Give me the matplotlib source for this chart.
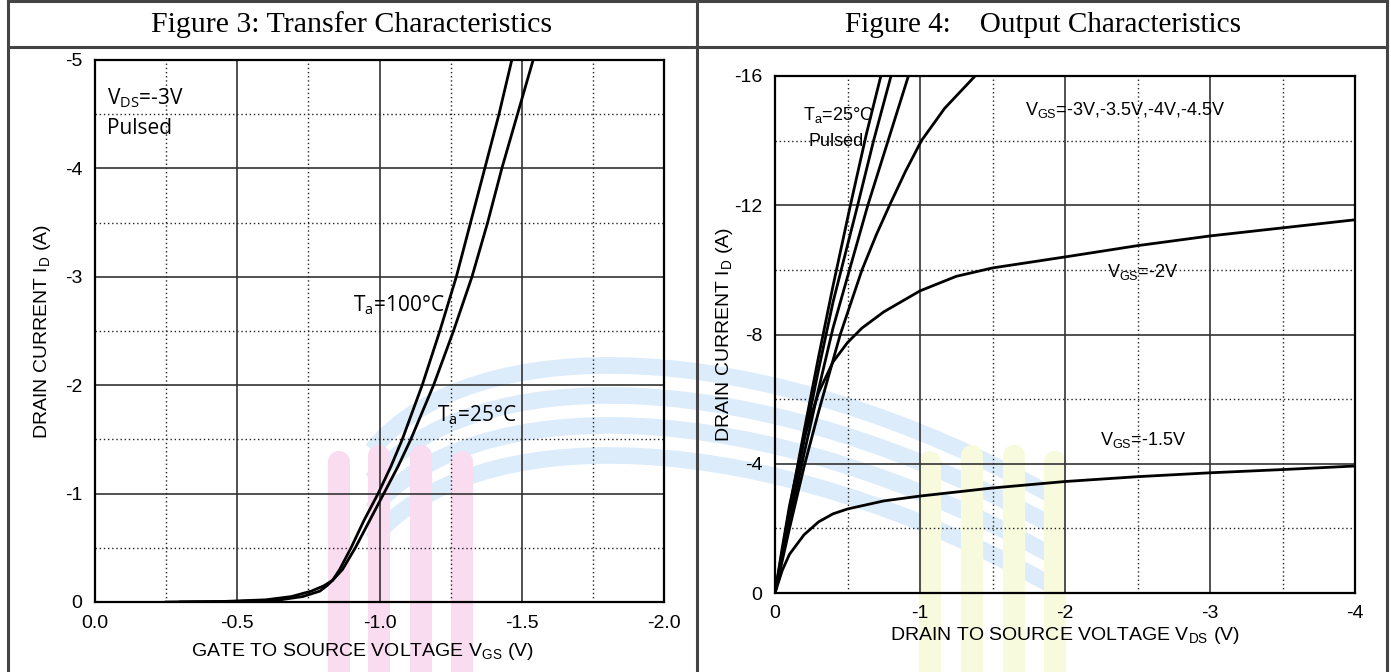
import matplotlib
matplotlib.use("Agg")
import matplotlib.pyplot as plt
from matplotlib.lines import Line2D
from matplotlib.patches import PathPatch
from matplotlib.path import Path
from matplotlib.ticker import FixedLocator

plt.rcParams['font.family'] = ['Liberation Sans', 'DejaVu Sans']

# ---- Figure 3: transfer characteristics (I_D vs V_GS) ----
TRANSFER_ID = [0, -0.005, -0.02, -0.05, -0.1, -0.15, -0.2, -0.3, -0.5, -0.75, -1.0, -1.25, -1.5,
               -2.0, -2.5, -3.0, -3.5, -4.0, -4.5, -5.0]
VGS_100C = [-0.30, -0.50, -0.65, -0.73, -0.79, -0.815, -0.835, -0.86, -0.900, -0.945, -0.995,
            -1.040, -1.080, -1.150, -1.212, -1.270, -1.320, -1.370, -1.420, -1.465]
VGS_25C = [-0.25, -0.45, -0.60, -0.69, -0.76, -0.805, -0.835, -0.87, -0.915, -0.965, -1.015,
           -1.065, -1.110, -1.190, -1.260, -1.325, -1.380, -1.430, -1.485, -1.540]

# ---- Figure 4: output characteristics (I_D vs V_DS) ----
VDS_45V = [0, -0.1, -0.2, -0.3, -0.4, -0.52, -0.63, -0.73]
ID_45V = [0, -2.6, -5.0, -7.3, -9.5, -12.0, -14.2, -16.0]
VDS_40V = [0, -0.1, -0.2, -0.3, -0.4, -0.57, -0.68, -0.80]
ID_40V = [0, -2.4, -4.7, -6.9, -9.0, -12.0, -14.0, -16.0]
VDS_35V = [0, -0.1, -0.2, -0.3, -0.4, -0.64, -0.78, -0.92]
ID_35V = [0, -2.2, -4.3, -6.3, -8.2, -12.0, -14.0, -16.0]
VDS_30V = [0, -0.1, -0.2, -0.3, -0.45, -0.6, -0.7, -0.79, -0.9, -1.01, -1.17, -1.38]
ID_30V = [0, -2.0, -3.9, -5.6, -8.0, -10.0, -11.1, -12.0, -13.05, -14.0, -15.0, -16.0]

VDS_20V = [0, -0.05, -0.1, -0.2, -0.3, -0.4, -0.5, -0.6, -0.75, -1.0, -1.25, -1.5,
           -2.0, -2.5, -3.0, -3.5, -4.0]
ID_20V = [0, -1.4, -2.7, -4.8, -6.2, -7.15, -7.75, -8.2, -8.7, -9.35, -9.8, -10.06,
          -10.4, -10.75, -11.05, -11.3, -11.55]

VDS_15V = [0, -0.05, -0.1, -0.2, -0.3, -0.4, -0.5, -0.75, -1.0, -1.5,
           -2.0, -2.5, -3.0, -3.5, -4.0]
ID_15V = [0, -0.7, -1.2, -1.8, -2.2, -2.45, -2.6, -2.85, -3.0, -3.25,
          -3.45, -3.6, -3.72, -3.82, -3.93]

LEFT_XTICKS = [0.0, -0.5, -1.0, -1.5, -2.0]
LEFT_XLABELS = ["0.0", "-0.5", "-1.0", "-1.5", "-2.0"]
LEFT_YTICKS = [0, -1, -2, -3, -4, -5]
RIGHT_XTICKS = [0, -1, -2, -3, -4]
RIGHT_YTICKS = [0, -4, -8, -12, -16]

W, H = 1391, 672
fig = plt.figure(figsize=(W / 100, H / 100), dpi=100)
fig.patch.set_facecolor("white")


def fx(x):
    return x / W


def fy(y):
    return 1 - y / H


def px_box(x0, y0, x1, y1):
    return [fx(x0), fy(y1), (x1 - x0) / W, (y1 - y0) / H]


def style_axes(ax, xmaj, xmin, ymaj, ymin):
    ax.set_facecolor("none")
    ax.xaxis.set_major_locator(FixedLocator(xmaj))
    ax.yaxis.set_major_locator(FixedLocator(ymaj))
    ax.xaxis.set_minor_locator(FixedLocator(xmin))
    ax.yaxis.set_minor_locator(FixedLocator(ymin))
    ax.grid(which="major", color="#333333", lw=1.2, ls="-")
    ax.grid(which="minor", color="#222222", lw=1.0, ls=(0, (1, 2)))
    ax.set_axisbelow(True)
    ax.tick_params(which="both", length=0, labelsize=14, pad=9)
    for s in ax.spines.values():
        s.set_linewidth(1.6)
        s.set_color("black")


# faint background watermark (decoration)
wm_blue = "#dcecfa"
for k in range(4):
    d = 30 * k
    verts = [(fx(372), fy(450 + d)), (fx(470), fy(330 + d)),
             (fx(760), fy(330 + d)), (fx(1060), fy(500 + d))]
    fig.add_artist(PathPatch(Path(verts, [Path.MOVETO, Path.CURVE4, Path.CURVE4, Path.CURVE4]),
                             transform=fig.transFigure, fill=False, ec=wm_blue,
                             lw=12, zorder=-2, capstyle="butt"))
for xs, col in [([339, 379, 421, 462], "#fadcf1"), ([930, 972, 1014, 1055], "#f7fadc")]:
    for i, x in enumerate(xs):
        top = 462 - 6 * min(i, 3 - i)
        fig.add_artist(Line2D([fx(x), fx(x)], [fy(top), fy(H + 20)], color=col, lw=16,
                              solid_capstyle="round", transform=fig.transFigure, zorder=-1))

# table frame
frame_kw = dict(color="#444444", lw=2.2, transform=fig.transFigure)
for (x0, y0, x1, y1) in [(8, 1, 1387, 1), (8, 47, 1387, 47), (8, 1, 8, H),
                         (697, 1, 697, H), (1387, 1, 1387, H)]:
    fig.add_artist(Line2D([fx(x0), fx(x1)], [fy(y0), fy(y1)], **frame_kw))

fig.text(fx(352), fy(25), "Figure 3: Transfer Characteristics", ha="center", va="center",
         fontsize=21.5, family="Liberation Serif")
fig.text(fx(1043), fy(25), "Figure 4:    Output Characteristics", ha="center", va="center",
         fontsize=21, family="Liberation Serif")

# left panel
ax1 = fig.add_axes(px_box(95, 60, 664, 602))
ax1.plot(VGS_100C, TRANSFER_ID, color="black", lw=2)
ax1.plot(VGS_25C, TRANSFER_ID, color="black", lw=2)
ax1.set_xlim(0, -2)
ax1.set_ylim(0, -5)
style_axes(ax1, LEFT_XTICKS, [-0.25, -0.75, -1.25, -1.75], LEFT_YTICKS,
           [-0.5, -1.5, -2.5, -3.5, -4.5])
ax1.set_xticklabels(LEFT_XLABELS)
ax1.set_yticklabels([f"{v:g}" for v in LEFT_YTICKS])
ax1.set_xlabel(r"GATE TO SOURCE VOLTAGE V$\mathregular{_{GS}}$ (V)", fontsize=14)
ax1.set_ylabel(r"DRAIN CURRENT I$\mathregular{_{D}}$ (A)", fontsize=14)
ax1.xaxis.set_label_coords((362 - 95) / 569, -(641 - 602) / 542)
ax1.yaxis.set_label_coords(-(95 - 53) / 569, 0.5)

ann = dict(fontsize=15, family="Open Sans", va="center", ha="left")
ax1.text(-0.042, -4.65, r"V$\mathregular{_{DS}}$=-3V", **ann)
ax1.text(-0.042, -4.37, "Pulsed", **ann)
ax1.text(-0.907, -2.74, r"T$\mathregular{_{a}}$=100°C", **ann)
ax1.text(-1.202, -1.725, r"T$\mathregular{_{a}}$=25°C", **ann)

# right panel
ax2 = fig.add_axes(px_box(775, 76, 1355, 593))
for vds, ids in [(VDS_45V, ID_45V), (VDS_40V, ID_40V), (VDS_35V, ID_35V),
                 (VDS_30V, ID_30V), (VDS_20V, ID_20V), (VDS_15V, ID_15V)]:
    ax2.plot(vds, ids, color="black", lw=2)
ax2.set_xlim(0, -4)
ax2.set_ylim(0, -16)
style_axes(ax2, RIGHT_XTICKS, [-0.5, -1.5, -2.5, -3.5], RIGHT_YTICKS, [-2, -6, -10, -14])
ax2.set_xticklabels([f"{v:g}" for v in RIGHT_XTICKS])
ax2.set_yticklabels([f"{v:g}" for v in RIGHT_YTICKS])
ax2.set_xlabel(r"DRAIN TO SOURCE VOLTAGE V$\mathregular{_{DS}}$ (V)", fontsize=14, labelpad=2)
ax2.set_ylabel(r"DRAIN CURRENT I$\mathregular{_{D}}$ (A)", fontsize=14)
ax2.yaxis.set_label_coords(-(775 - 735) / 580, 0.5)

ann2 = dict(fontsize=13, va="center", ha="left")
ax2.text(-0.193, -14.8, r"T$\mathregular{_{a}}$=25°C", **ann2)
ax2.text(-0.228, -13.96, "Pulsed", **ann2)
ax2.text(-1.724, -14.95, r"V$\mathregular{_{GS}}$=-3V,-3.5V,-4V,-4.5V", **ann2)
ax2.text(-2.29, -9.94, r"V$\mathregular{_{GS}}$=-2V", **ann2)
ax2.text(-2.24, -4.74, r"V$\mathregular{_{GS}}$=-1.5V", **ann2)

fig.savefig("out.png", dpi=100)
